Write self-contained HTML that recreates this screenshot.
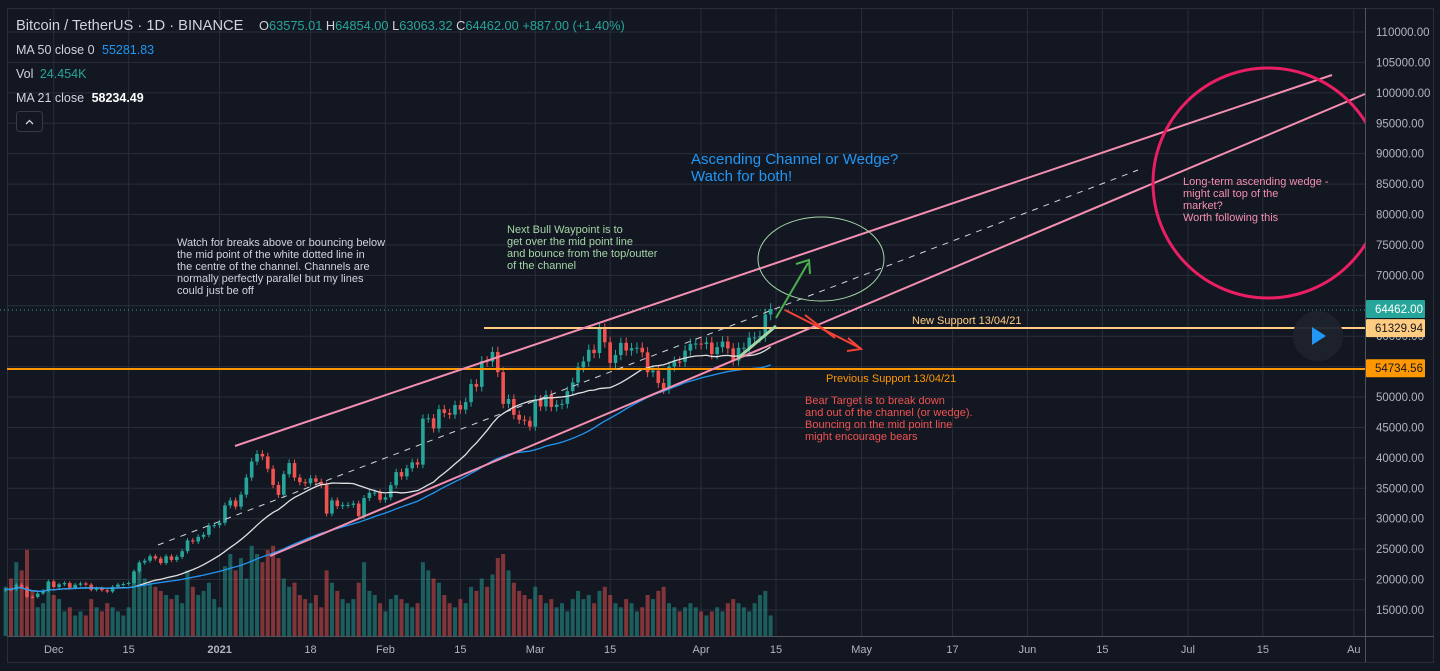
<!DOCTYPE html>
<html><head><meta charset="utf-8"><style>
html,body{margin:0;padding:0;background:#131722;overflow:hidden}
svg{display:block;font-family:"Liberation Sans",sans-serif}
</style></head><body>
<svg id="c" width="1440" height="671" viewBox="0 0 1440 671" xmlns="http://www.w3.org/2000/svg">
<rect width="1440" height="671" fill="#131722"/>
<g id="grid"></g>
<g id="vol"></g>
<g id="candles"></g>
<g id="mas"></g>
<g>
<line x1="0" y1="310" x2="1365" y2="310" stroke="#26a69a" stroke-dasharray="1 3"/>
<line x1="484" y1="328" x2="1365" y2="328" stroke="#ffcc80" stroke-width="2"/>
<line x1="7" y1="369" x2="1365" y2="369" stroke="#ff9800" stroke-width="2"/>
<line x1="235" y1="446" x2="1332" y2="75" stroke="#f48fb1" stroke-width="2"/>
<line x1="270" y1="556" x2="1365" y2="94" stroke="#f48fb1" stroke-width="2"/>
<line x1="158" y1="545" x2="1138" y2="170" stroke="#d1d4dc" stroke-width="1" stroke-dasharray="6 6"/>
<ellipse cx="821" cy="259" rx="63" ry="42" fill="none" stroke="#a5d6a7"/>
<clipPath id="cp"><rect x="0" y="0" width="1365" height="671"/></clipPath>
<circle cx="1268" cy="183" r="115" fill="none" stroke="#e91e63" stroke-width="3" clip-path="url(#cp)"/>
<line x1="738" y1="358" x2="776" y2="326" stroke="#a5d6a7" stroke-width="3"/>
<line x1="776" y1="318" x2="808" y2="263" stroke="#4caf50" stroke-width="2"/>
<polyline points="796,264 809,260 810,274" fill="none" stroke="#4caf50" stroke-width="2"/>
<line x1="785" y1="310" x2="860" y2="348" stroke="#f44336" stroke-width="2"/>
<polyline points="848,338 861,349 847,351" fill="none" stroke="#f44336" stroke-width="2"/>
<line x1="805" y1="315" x2="835" y2="338" stroke="#f44336" stroke-width="2"/>
</g>
<g font-size="11">
<text x="691" y="164" fill="#2196f3" font-size="15">Ascending Channel or Wedge?<tspan x="691" dy="17">Watch for both!</tspan></text>
<text x="177" y="246" fill="#d1d4dc">Watch for breaks above or bouncing below<tspan x="177" dy="12">the mid point of the white dotted line in</tspan><tspan x="177" dy="12">the centre of the channel. Channels are</tspan><tspan x="177" dy="12">normally perfectly parallel but my lines</tspan><tspan x="177" dy="12">could just be off</tspan></text>
<text x="507" y="233" fill="#a5d6a7">Next Bull Waypoint is to<tspan x="507" dy="12">get over the mid point line</tspan><tspan x="507" dy="12">and bounce from the top/outter</tspan><tspan x="507" dy="12">of the channel</tspan></text>
<text x="1183" y="185" fill="#f48fb1">Long-term ascending wedge -<tspan x="1183" dy="12">might call top of the</tspan><tspan x="1183" dy="12">market?</tspan><tspan x="1183" dy="12">Worth following this</tspan></text>
<text x="912" y="324" fill="#ffcc80">New Support 13/04/21</text>
<text x="826" y="382" fill="#ff9800">Previous Support 13/04/21</text>
<text x="805" y="404" fill="#ef5350">Bear Target is to break down<tspan x="805" dy="12">and out of the channel (or wedge).</tspan><tspan x="805" dy="12">Bouncing on the mid point line</tspan><tspan x="805" dy="12">might encourage bears</tspan></text>
</g>
<g>
<text x="16" y="30" font-size="14.7" fill="#d1d4dc">Bitcoin / TetherUS · 1D · BINANCE</text>
<text x="259" y="30" font-size="12.8" fill="#d1d4dc">O<tspan fill="#26a69a">63575.01</tspan> H<tspan fill="#26a69a">64854.00</tspan> L<tspan fill="#26a69a">63063.32</tspan> C<tspan fill="#26a69a">64462.00</tspan> <tspan fill="#26a69a">+887.00 (+1.40%)</tspan></text>
<text x="16" y="54" font-size="12.5" fill="#d1d4dc">MA 50 close 0 <tspan fill="#2196f3" dx="4">55281.83</tspan></text>
<text x="16" y="78" font-size="12.5" fill="#d1d4dc">Vol <tspan fill="#26a69a" dx="3">24.454K</tspan></text>
<text x="16" y="102" font-size="12.5" fill="#d1d4dc">MA 21 close <tspan fill="#fff" dx="4" font-weight="bold">58234.49</tspan></text>
<rect x="16.5" y="111.5" width="26" height="20" rx="3" fill="#131722" stroke="#363a45"/>
<polyline points="26,124 29.5,120.5 33,124" fill="none" stroke="#d1d4dc" stroke-width="1.3"/>
</g>
<g>
<circle cx="1318" cy="336" r="25" fill="#1e222d" opacity="0.95"/>
<polygon points="1312,327 1326,336 1312,345" fill="#2196f3"/>
</g>
<g id="axis"></g>
<g id="taxis"></g>
</svg>
<script>
const closes=[18400,18360,19150,18720,17150,17140,17720,18180,19700,18770,19220,19420,18650,19150,19360,19170,18320,18550,18250,18030,18800,19170,19270,19440,21350,22800,23100,23830,23460,22720,23820,23230,23730,24660,26440,26250,27030,27360,28880,28950,29330,32180,33000,31990,33950,36770,39400,40650,40240,38210,35550,33920,37320,39150,36770,36010,35830,36630,36070,35550,30840,33010,32080,32260,32270,32500,30420,33400,34260,34310,33110,33520,35510,37670,36950,38290,39260,38890,46450,46510,44840,47990,47380,47110,48680,47940,49160,52150,51680,55890,55840,57410,54090,48890,49680,47070,46280,46110,45140,49590,48440,50350,48370,48750,48880,50970,52390,54880,55850,57770,57230,61190,59000,55600,56900,58910,57650,58030,58100,57350,54080,54340,52300,51290,55020,55830,55780,57630,58740,58790,58720,58960,57060,58200,59130,57990,56000,58090,58090,59770,59790,59980,63575,64462];
const volumes=[20,22,26,24,29,19,15,16,21,18,17,14,15,13,14,13,17,15,14,16,15,14,13,15,23,25,22,21,20,19,18,17,18,16,24,20,18,19,21,17,15,25,28,24,27,22,30,28,26,29,30,27,22,20,21,18,17,16,18,15,24,21,19,17,16,17,21,26,19,18,16,14,17,18,17,16,15,16,26,24,22,21,18,16,15,17,16,20,19,22,20,23,27,28,24,21,19,18,17,20,18,16,17,15,16,14,17,19,17,18,16,19,20,18,16,15,17,16,14,15,18,17,19,20,16,15,14,15,16,15,14,13,14,15,14,16,17,16,15,14,16,18,19,13];
const priceTicks=[110000,105000,100000,95000,90000,85000,80000,75000,70000,65000,60000,55000,50000,45000,40000,35000,30000,25000,20000,15000];
const timeLabels=["Dec","15","2021","18","Feb","15","Mar","15","Apr","15","May","17","Jun","15","Jul","15","Au"];
const timeDays=[9,23,40,57,71,85,99,113,130,144,160,177,191,205,221,235,252];
const NS="http://www.w3.org/2000/svg";
const X0=5.6,DX=5.35;
function xs(i){return X0+i*DX;}
function ys(p){return 32+(110000-p)/5000*30.42;}
function yv(v){return 636-(v-8)*4.1;}
function mk(t,a,parent){const e=document.createElementNS(NS,t);for(const k in a)e.setAttribute(k,a[k]);parent.appendChild(e);return e;}
const G=id=>document.getElementById(id);
priceTicks.forEach(p=>{const l=mk('line',{x1:7,x2:1365,y1:ys(p),y2:ys(p),stroke:'#2a2e39'},G('grid'));

});
timeDays.forEach(d=>{const l=mk('line',{x1:xs(d),x2:xs(d),y1:8,y2:636,stroke:'#2a2e39'},G('grid'));

});
mk('rect',{x:7.5,y:8.5,width:1426,height:654,fill:'none',stroke:'#2a2e39'},G('grid'));
mk('line',{x1:1365.5,x2:1365.5,y1:8,y2:662,stroke:'#50535e'},G('grid'));
mk('line',{x1:7,x2:1434,y1:636.5,y2:636.5,stroke:'#50535e'},G('grid'));
closes.forEach((c,i)=>{
 const o=i?closes[i-1]:c*0.99;const up=c>=o;const col=up?'#26a69a':'#ef5350';
 const hi=Math.max(o,c)*1.015,lo=Math.min(o,c)*0.985;const x=xs(i);
 const w=mk('line',{x1:x,x2:x,y1:ys(hi),y2:ys(lo),stroke:col},G('candles'));
 
 
 const b=mk('rect',{x:x-1.8,y:ys(Math.max(o,c)),width:3.6,height:Math.max(1,ys(Math.min(o,c))-ys(Math.max(o,c))),fill:col},G('candles'));
 
 
 const v=mk('rect',{x:x-2,y:yv(volumes[i]),width:4,height:636-yv(volumes[i]),fill:up?'rgba(38,166,154,0.5)':'rgba(239,83,80,0.5)'},G('vol'));
 
 
});
function ma(n,col,name){let pts=[];closes.forEach((c,i)=>{const s=closes.slice(Math.max(0,i-n+1),i+1);const a=s.reduce((p,q)=>p+q,0)/s.length;pts.push(xs(i)+','+ys(a));});
 const p=mk('polyline',{points:pts.join(' '),fill:'none',stroke:col,'stroke-width':1.3},G('mas'));
 
 }
ma(21,'#e0e0e0','ma21-line');ma(50,'#2196f3','ma50-line');
priceTicks.forEach(p=>{const t=mk('text',{x:1376,y:ys(p)+4,'font-size':11.5,fill:'#b2b5be'},G('axis'));t.textContent=p.toFixed(2);
 
 });
[[64462,'#26a69a','#fff'],[61329.94,'#ffcc80','#131722'],[54734.56,'#ff9800','#131722']].forEach(a=>{const y=ys(a[0]);
 const r=mk('rect',{x:1366,y:y-9,width:59,height:18,fill:a[1],rx:1},G('axis'));
 
 
 const t=mk('text',{x:1375,y:y+4,'font-size':11.5,fill:a[2]},G('axis'));t.textContent=a[0].toFixed(2);});
timeLabels.forEach((s,i)=>{const t=mk('text',{x:xs(timeDays[i]),y:653,'font-size':11,fill:'#b2b5be','text-anchor':'middle','font-weight':s==='2021'?'bold':'normal'},G('taxis'));t.textContent=s;
 
 });
</script>
</body></html>
